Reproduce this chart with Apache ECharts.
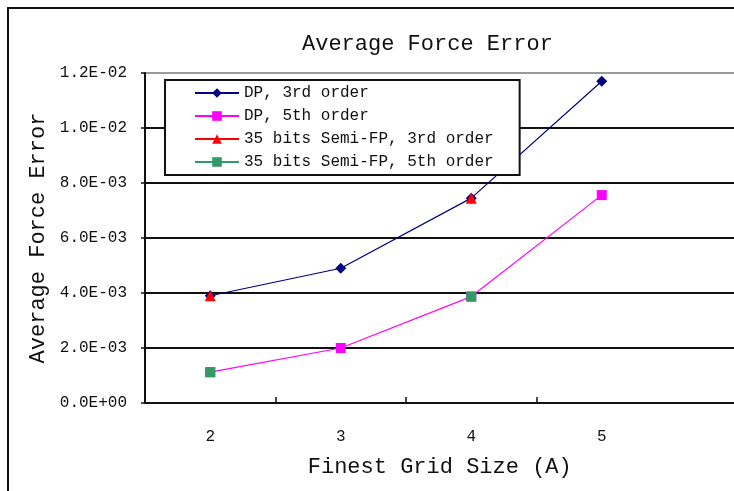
<!DOCTYPE html>
<html>
<head>
<meta charset="utf-8">
<script src="https://cdn.jsdelivr.net/npm/echarts@6/dist/echarts.min.js"></script>
<style>
  html, body { margin: 0; padding: 0; background: #fff; overflow: hidden; width: 734px; height: 491px; }
  /* the drawing surface runs past the right edge so the plot area continues beyond the window */
  #chart { width: 798px; height: 491px; }
</style>
</head>
<body>
<div id="chart"></div>
<script>
// Finest grid size (Angstrom)
const gridSizes = [2, 3, 4, 5];

// Average force error per grid size
const dp3rd = [3.9e-3, 4.9e-3, 7.45e-3, 1.17e-2];
const dp5th = [1.12e-3, 2.0e-3, 3.87e-3, 7.56e-3];
const semi3rd = [3.9e-3, null, 7.45e-3, null];
const semi5th = [1.12e-3, null, 3.87e-3, null];

const seriesNames = [
  'DP, 3rd order',
  'DP, 5th order',
  '35 bits Semi-FP, 3rd order',
  '35 bits Semi-FP, 5th order'
];

// x range spans one unit per grid size, centred on each, plus one spare slot on the right
const xRange = { min: 1.5, max: 6.5 };
const xTickValues = [2.5, 3.5, 4.5];
const yTicks = { min: 0, max: 0.012, step: 0.002 };

const FONT = '"Liberation Mono", "DejaVu Sans Mono", monospace';

// 0.0012 -> "1.2E-03"
function sci(v) {
  if (v === 0) return '0.0E+00';
  let exp = Math.floor(Math.log10(Math.abs(v)));
  let mant = v / Math.pow(10, exp);
  if (Math.round(mant * 10) >= 100) { mant /= 10; exp += 1; }
  const sign = exp < 0 ? '-' : '+';
  const e = String(Math.abs(exp)).padStart(2, '0');
  return mant.toFixed(1) + 'E' + sign + e;
}

function pairs(values) {
  return gridSizes.map((x, i) => [x, values[i]]);
}

function lineSeries(name, values, color, symbol, size) {
  return {
    name: name,
    type: 'line',
    data: pairs(values),
    connectNulls: false,
    symbol: symbol,
    symbolSize: size,
    showAllSymbol: true,
    itemStyle: { color: color },
    lineStyle: { color: color, width: 1.2 },
    emphasis: { disabled: true },
    animation: false
  };
}

const chart = echarts.init(document.getElementById('chart'), null, { renderer: 'canvas' });

chart.setOption({
  backgroundColor: '#fff',
  animation: false,
  title: {
    text: 'Average Force Error',
    left: 297,
    top: 28,
    textStyle: { fontFamily: FONT, fontSize: 22, fontWeight: 'normal', color: '#111' }
  },
  legend: {
    orient: 'vertical',
    left: 165,
    top: 80,
    padding: [5, 26, 5, 29],
    itemGap: 7,
    itemWidth: 44,
    itemHeight: 12,
    backgroundColor: '#fff',
    borderColor: '#111',
    borderWidth: 2,
    borderRadius: 0,
    selectedMode: false,
    data: seriesNames,
    textStyle: { fontFamily: FONT, fontSize: 16, color: '#111' }
  },
  grid: {
    left: 145,
    right: 0.5,
    top: 73,
    bottom: 88,
    containLabel: false
  },
  xAxis: {
    type: 'value',
    min: xRange.min,
    max: xRange.max,
    name: 'Finest Grid Size (A)',
    nameLocation: 'middle',
    nameGap: 53,
    nameTextStyle: { fontFamily: FONT, fontSize: 22, color: '#111', padding: [0, 63, 0, 0] },
    axisLine: { lineStyle: { color: '#111', width: 2 } },
    axisTick: {
      show: true,
      inside: true,
      length: 6,
      customValues: xTickValues,
      lineStyle: { color: '#111', width: 1.5 }
    },
    axisLabel: {
      margin: 26,
      fontFamily: FONT,
      fontSize: 16,
      color: '#111',
      customValues: gridSizes,
      showMinLabel: true,
      showMaxLabel: true
    },
    splitLine: { show: false }
  },
  yAxis: {
    type: 'value',
    min: yTicks.min,
    max: yTicks.max,
    interval: yTicks.step,
    name: 'Average Force Error',
    nameLocation: 'middle',
    nameGap: 96,
    nameTextStyle: { fontFamily: FONT, fontSize: 22, color: '#111' },
    axisLine: { show: true, lineStyle: { color: '#111', width: 2 } },
    axisTick: { show: true, length: 4, lineStyle: { color: '#111', width: 1.5 } },
    axisLabel: {
      margin: 18,
      fontFamily: FONT,
      fontSize: 16,
      color: '#111',
      formatter: sci
    },
    splitLine: {
      show: true,
      lineStyle: {
        color: ['#111', '#111', '#111', '#111', '#111', '#111', '#999'],
        width: 2
      }
    }
  },
  graphic: [
    {
      type: 'rect',
      z: 100,
      silent: true,
      shape: { x: 8, y: 8, width: 900, height: 700 },
      style: { fill: 'none', stroke: '#111', lineWidth: 2 }
    }
  ],
  series: [
    lineSeries(seriesNames[0], dp3rd, '#000080', 'diamond', 11),
    lineSeries(seriesNames[1], dp5th, '#ff00ff', 'rect', 10),
    lineSeries(seriesNames[2], semi3rd, '#ff0000', 'triangle', 11),
    lineSeries(seriesNames[3], semi5th, '#339966', 'rect', 10)
  ]
});
</script>
</body>
</html>
